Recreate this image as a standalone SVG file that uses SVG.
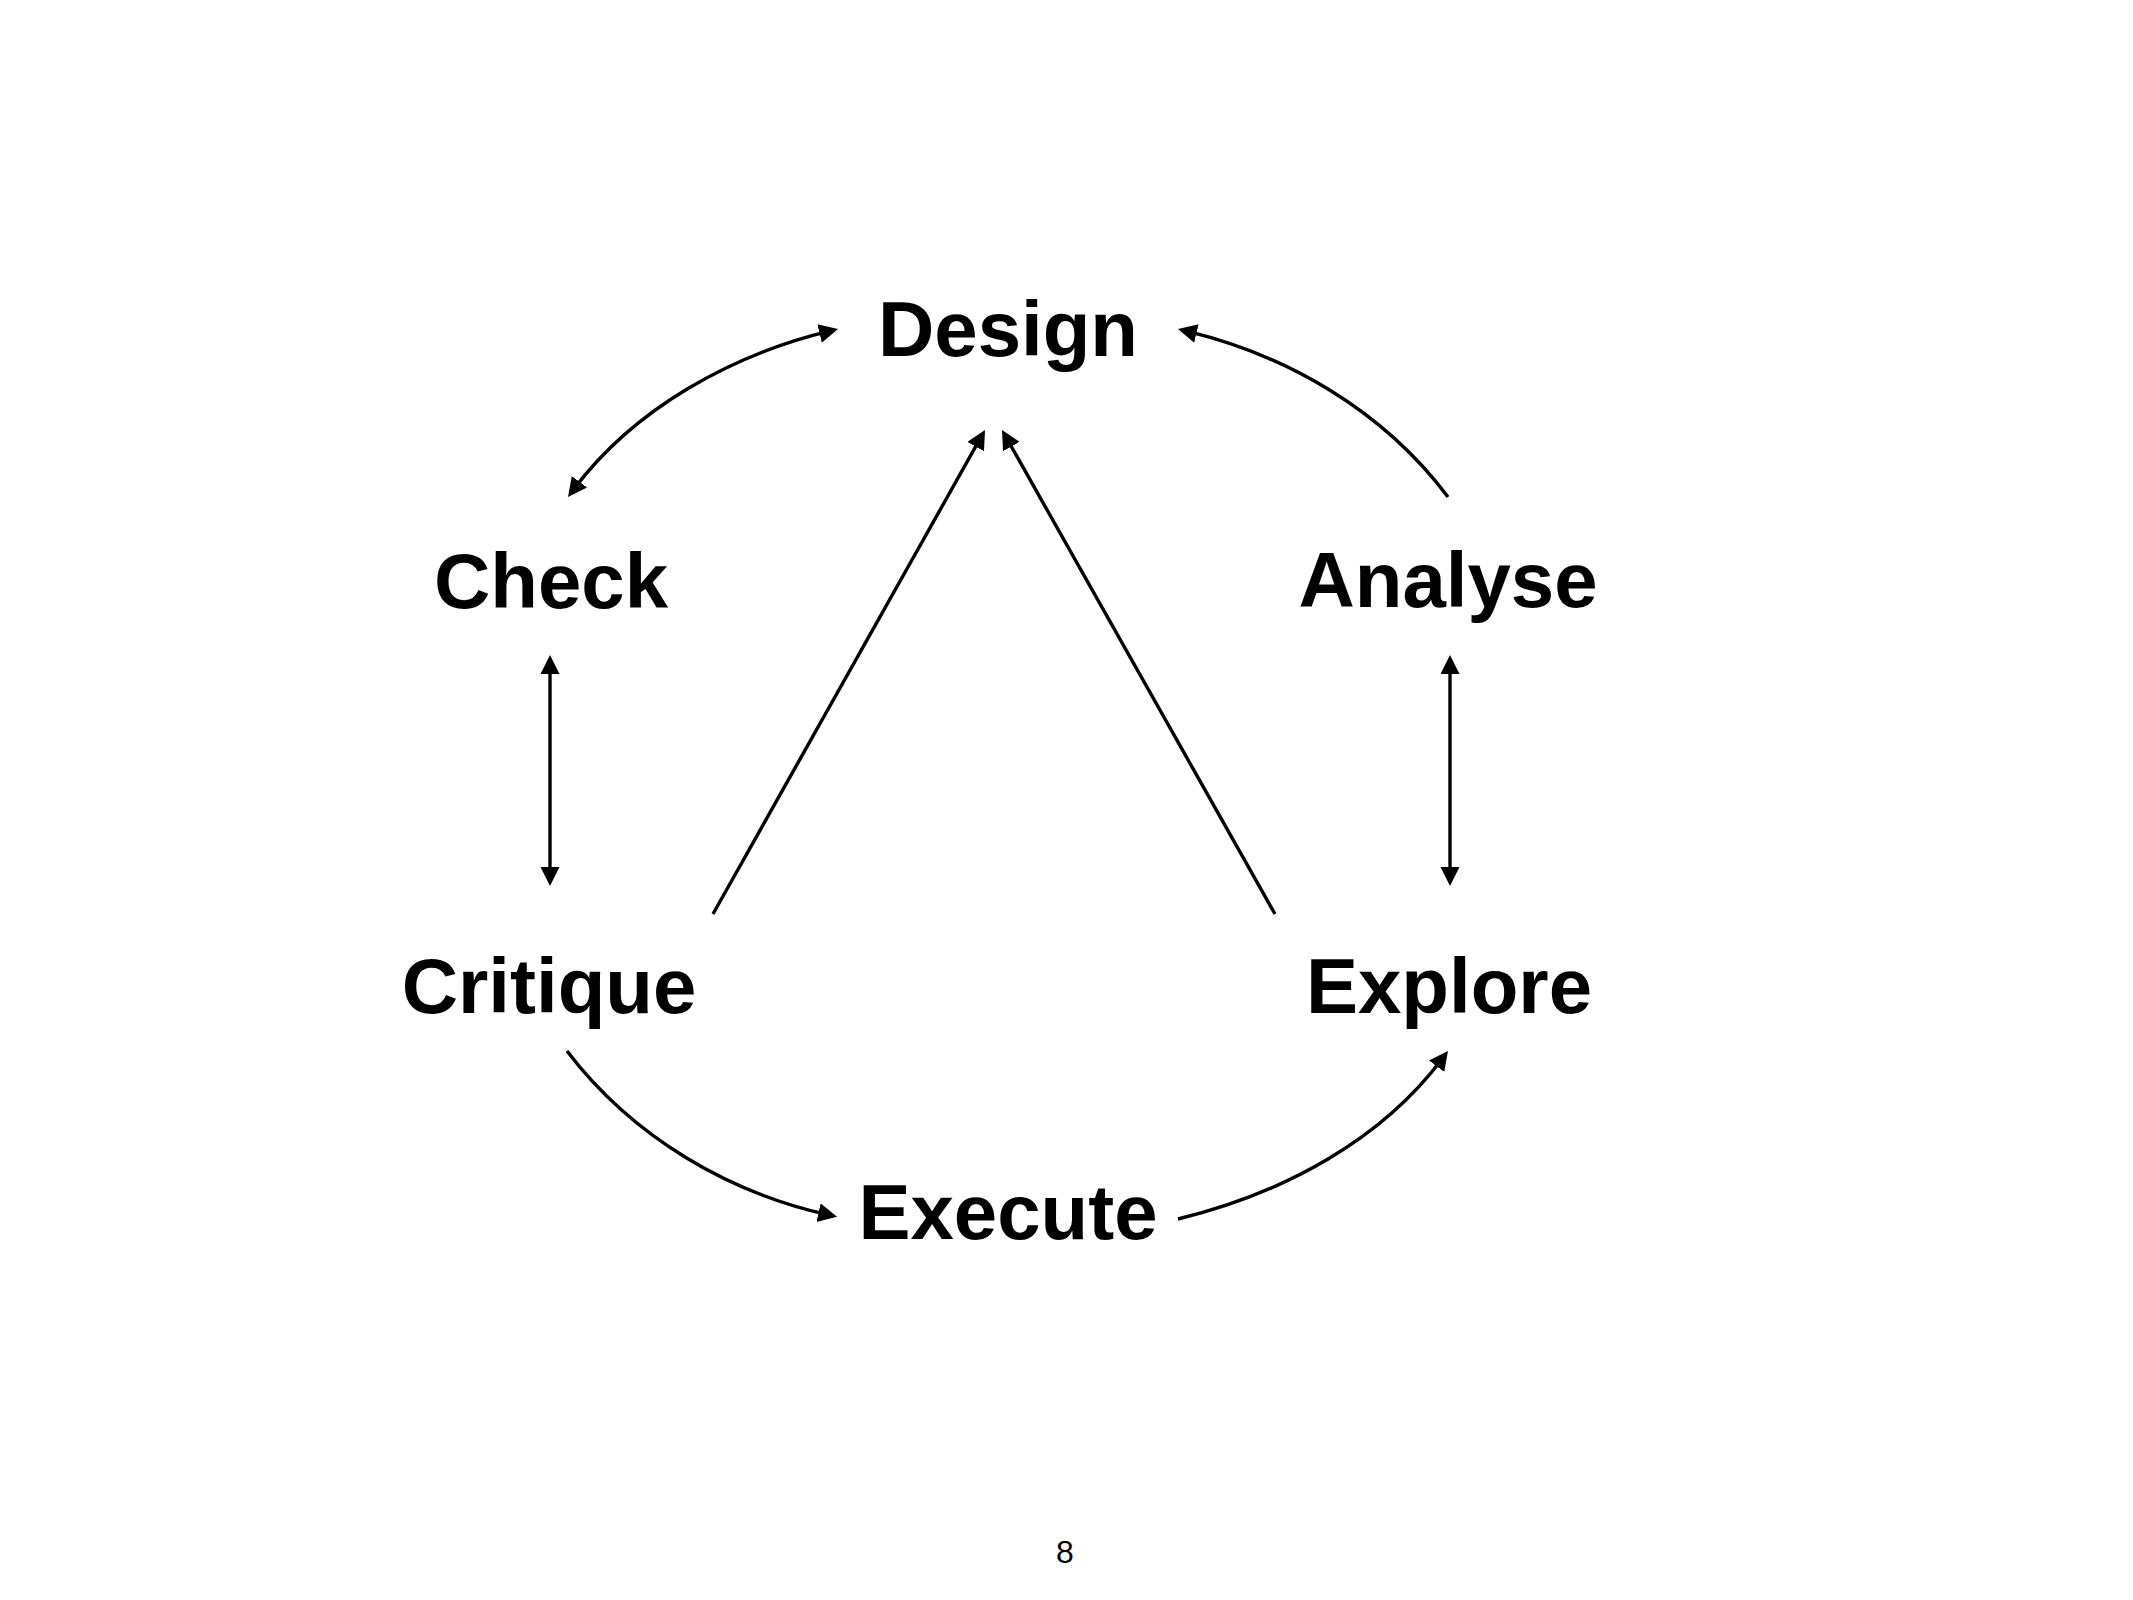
<svg xmlns="http://www.w3.org/2000/svg" width="2133" height="1600" viewBox="0 0 2133 1600">
<style>
.lbl{font-family:"Liberation Sans",Arial,sans-serif;font-weight:bold;font-size:78px;fill:#000;text-anchor:middle}
.pg{font-family:"Liberation Sans",Arial,sans-serif;font-size:32px;fill:#000;text-anchor:middle}
.c{fill:none;stroke:#000;stroke-width:3.4}
</style>
<defs>
<marker id="ah" markerUnits="userSpaceOnUse" markerWidth="20" markerHeight="20" refX="9" refY="9.5" orient="auto-start-reverse" viewBox="0 0 20 20">
<path d="M0,0 L19,9.5 L0,19 z" fill="#000"/>
</marker>
</defs>
<rect width="2133" height="1600" fill="#fff"/>
<g id="connectors">
<path class="c" d="M574,489 C634,409 731,355 828.3,331.4" marker-start="url(#ah)" marker-end="url(#ah)"/>
<path class="c" d="M1448,497 C1382,409 1285,355 1187.7,331.4" marker-end="url(#ah)"/>
<path class="c" d="M550,665 L550,876" marker-start="url(#ah)" marker-end="url(#ah)"/>
<path class="c" d="M1450,665 L1450,876" marker-start="url(#ah)" marker-end="url(#ah)"/>
<path class="c" d="M567,1051 C634,1139 731,1193 827.3,1214.6" marker-end="url(#ah)"/>
<path class="c" d="M1178,1219 C1285,1193 1382,1139 1442,1059" marker-end="url(#ah)"/>
<path class="c" d="M713,914 L980.1,438.7" marker-end="url(#ah)"/>
<path class="c" d="M1275,914 L1006.9,438.7" marker-end="url(#ah)"/>
</g>
<g id="design"><text class="lbl" x="1008" y="356">Design</text></g>
<g id="check"><text class="lbl" x="551" y="608">Check</text></g>
<g id="analyse"><text class="lbl" x="1448" y="607">Analyse</text></g>
<g id="critique"><text class="lbl" x="549" y="1013">Critique</text></g>
<g id="explore"><text class="lbl" x="1449" y="1013">Explore</text></g>
<g id="execute"><text class="lbl" x="1008" y="1239">Execute</text></g>
<g id="page"><text class="pg" x="1065" y="1563">8</text></g>
</svg>
